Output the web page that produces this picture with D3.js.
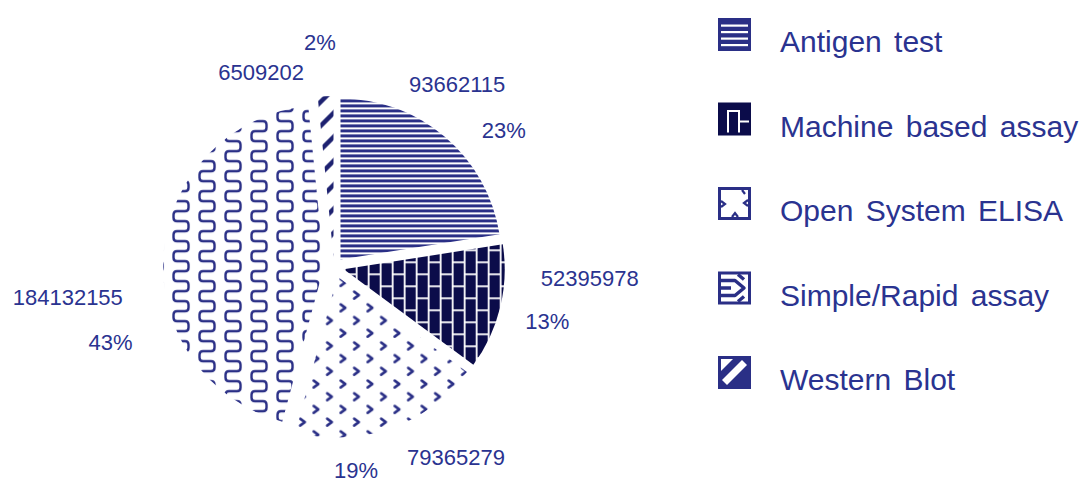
<!DOCTYPE html>
<html>
<head>
<meta charset="utf-8">
<script src="https://cdn.jsdelivr.net/npm/d3@7"></script>
<style>
  html, body { margin: 0; padding: 0; background: #ffffff; }
  svg { display: block; }
  text { font-family: "Liberation Sans", Arial, Helvetica, sans-serif; fill: #2a3390; }
</style>
</head>
<body>
<svg id="chart" width="1086" height="484"></svg>
<script>
// Test volumes by assay type
const categories = ["Antigen test", "Machine based assay", "Open System ELISA", "Simple/Rapid assay", "Western Blot"];
const values = [93662115, 52395978, 79365279, 184132155, 6509202];
const percentLabels = ["23%", "13%", "19%", "43%", "2%"];
const fillPatterns = ["p-hlines", "p-brick", "p-chevron", "p-wave", "p-diag"];

// Label placement around the pie: angle shift (deg) from the slice middle and radius
const valueLabelPlacement = [[-6.5, 220], [-11.2, 256], [-13.4, 226], [-11.3, 268], [-17.7, 208]];
const pctLabelPlacement = [[10.6, 218], [0.5, 220], [13.1, 204], [-23.4, 236], [-0.8, 225]];

const NAVY = "#2a2f86";
const DARK = "#0b0c4a";

const svg = d3.select("#chart");
const defs = svg.append("defs");

// horizontal stripes
const ph = defs.append("pattern").attr("id", "p-hlines").attr("patternUnits", "userSpaceOnUse")
  .attr("width", 8).attr("height", 5);
ph.append("rect").attr("width", 8).attr("height", 3).attr("fill", NAVY);

// dark bricks with white joints
const pb = defs.append("pattern").attr("id", "p-brick").attr("patternUnits", "userSpaceOnUse")
  .attr("width", 24).attr("height", 24);
pb.append("rect").attr("width", 24).attr("height", 24).attr("fill", DARK);
pb.append("rect").attr("x", 0).attr("y", 0).attr("width", 1.8).attr("height", 24).attr("fill", "#fff");
pb.append("rect").attr("x", 12).attr("y", 0).attr("width", 1.8).attr("height", 24).attr("fill", "#fff");
pb.append("rect").attr("x", 0).attr("y", 4).attr("width", 12).attr("height", 1.8).attr("fill", "#fff");
pb.append("rect").attr("x", 12).attr("y", 16).attr("width", 12).attr("height", 1.8).attr("fill", "#fff");

// sparse chevrons
const pc = defs.append("pattern").attr("id", "p-chevron").attr("patternUnits", "userSpaceOnUse")
  .attr("width", 27).attr("height", 25.4);
[[6, 6], [19.5, 18.7]].forEach(([x, y]) => {
  pc.append("path").attr("d", `M${x - 2.6},${y - 3.4} L${x + 2},${y} L${x - 2.6},${y + 3.4}`)
    .attr("fill", "none").attr("stroke", NAVY).attr("stroke-width", 2.6)
    .attr("stroke-linecap", "round").attr("stroke-linejoin", "round");
});

// snake waves running down in columns
const pw = defs.append("pattern").attr("id", "p-wave").attr("patternUnits", "userSpaceOnUse")
  .attr("width", 26).attr("height", 20);
pw.append("path")
  .attr("d", "M17,-5 Q20.5,-5 20.5,-1.5 L20.5,1.5 Q20.5,5 17,5 L9,5 Q5.5,5 5.5,8.5 L5.5,11.5 Q5.5,15 9,15 L17,15 Q20.5,15 20.5,18.5 L20.5,21.5 Q20.5,25 17,25")
  .attr("fill", "none").attr("stroke", NAVY).attr("stroke-width", 2.4);

// wide diagonal strokes
const pd = defs.append("pattern").attr("id", "p-diag").attr("patternUnits", "userSpaceOnUse")
  .attr("width", 24).attr("height", 24);
pd.append("path").attr("d", "M-24,24 L24,-24 M0,24 L24,0 M0,48 L48,0")
  .attr("stroke", "#1d2170").attr("stroke-width", 4.5);

// ---- pie ----
const cx = 334, cy = 267, radius = 161, explode = 10;
const pie = d3.pie().sort(null).value(d => d)(values);
const arc = d3.arc().innerRadius(0).outerRadius(radius);
const deg = Math.PI / 180;
const polar = (a, r) => [Math.sin(a) * r, -Math.cos(a) * r];

const g = svg.append("g").attr("transform", `translate(${cx},${cy})`);
g.selectAll("path.slice").data(pie).join("path")
  .attr("class", "slice")
  .attr("transform", d => {
    const [ox, oy] = polar((d.startAngle + d.endAngle) / 2, explode);
    return `translate(${ox},${oy})`;
  })
  .attr("d", arc)
  .attr("fill", (d, i) => `url(#${fillPatterns[i]})`);

// value and percent labels
pie.forEach((d, i) => {
  const mid = (d.startAngle + d.endAngle) / 2;
  const [va, vr] = valueLabelPlacement[i];
  const [pa, pr] = pctLabelPlacement[i];
  const [vx, vy] = polar(mid + va * deg, vr);
  const [px, py] = polar(mid + pa * deg, pr);
  g.append("text").attr("x", vx).attr("y", vy).attr("dy", "0.35em")
    .attr("text-anchor", "middle").style("font-size", "22px").text(values[i]);
  g.append("text").attr("x", px).attr("y", py).attr("dy", "0.35em")
    .attr("text-anchor", "middle").style("font-size", "22px").text(percentLabels[i]);
});

// ---- legend ----
const legendX = 718, legendBase = 52, legendStep = 84.5, box = 33;
const legend = svg.append("g");
categories.forEach((name, i) => {
  const base = legendBase + i * legendStep;
  const sw = legend.append("g").attr("transform", `translate(${legendX},${base - box - 1})`);
  if (i === 0) {
    sw.append("rect").attr("width", box).attr("height", box).attr("fill", NAVY);
    [6.5, 13, 19.5, 26].forEach(y => sw.append("rect").attr("x", 3).attr("y", y)
      .attr("width", box - 6).attr("height", 2.2).attr("fill", "#fff"));
  } else if (i === 1) {
    sw.append("rect").attr("width", box).attr("height", box).attr("fill", DARK);
    sw.append("path").attr("d", "M10,30 L10,8.5 L21,8.5 L21,30 M21,19 L31,19")
      .attr("fill", "none").attr("stroke", "#fff").attr("stroke-width", 2);
  } else if (i === 2) {
    sw.append("rect").attr("x", 1.5).attr("y", 1.5).attr("width", box - 3).attr("height", box - 3)
      .attr("fill", "#fff").attr("stroke", NAVY).attr("stroke-width", 3);
    sw.append("path").attr("d", "M3,14 L7,17 L3,20 M30,13 L26,16 L30,19 M24,3 L27,7 M14,30 L17,26 L20,30")
      .attr("fill", "none").attr("stroke", NAVY).attr("stroke-width", 2.2);
  } else if (i === 3) {
    sw.append("rect").attr("x", 1.5).attr("y", 1.5).attr("width", box - 3).attr("height", box - 3)
      .attr("fill", "#fff").attr("stroke", NAVY).attr("stroke-width", 3);
    sw.append("path").attr("d", "M3,9 L17,9 L26,16.5 L17,24 L3,24 M3,16.5 L13,16.5 M20,3 L26,8 M20,30 L26,25")
      .attr("fill", "none").attr("stroke", NAVY).attr("stroke-width", 3.5).attr("stroke-linejoin", "round");
  } else {
    sw.append("rect").attr("width", box).attr("height", box).attr("fill", NAVY);
    sw.append("path").attr("d", "M4,24 L24,4 L29,9 L9,29 Z").attr("fill", "#fff");
    sw.append("path").attr("d", "M3,3 L15,3 L3,15 Z").attr("fill", "#fff");
  }
  legend.append("text").attr("x", 780).attr("y", base)
    .style("font-size", "30px").style("word-spacing", "4px").text(name);
});
</script>
</body>
</html>
